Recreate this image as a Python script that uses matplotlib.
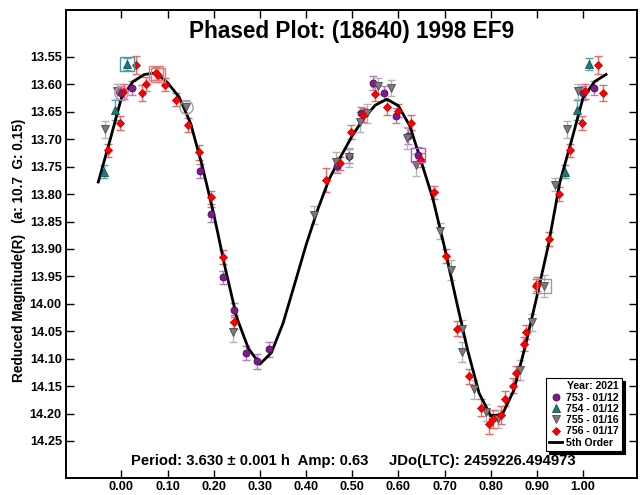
import numpy as np
import matplotlib
matplotlib.use("Agg")
import matplotlib.pyplot as plt
from matplotlib.lines import Line2D

plt.rcParams['font.family'] = ['Liberation Sans', 'DejaVu Sans']
plt.rcParams['font.weight'] = 'bold'

# session 753 - 01/12
purple_phase = [0.023, 0.171, 0.195, 0.220, 0.245, 0.269, 0.294, 0.319, 0.468, 0.493,
                0.520, 0.545, 0.570, 0.596, 0.621, 0.643, 0.999]
purple_mag = [13.607, 13.758, 13.837, 13.952, 14.011, 14.090, 14.105, 14.083, 13.749, 13.730,
              13.653, 13.597, 13.616, 13.657, 13.694, 13.729, 13.616]
purple_err = [0.013, 0.013, 0.013, 0.012, 0.013, 0.013, 0.014, 0.014, 0.013, 0.013,
              0.012, 0.013, 0.013, 0.013, 0.014, 0.014, 0.013]

# session 754 - 01/12
teal_phase = [0.012, 0.962, 0.986]
teal_mag = [13.563, 13.759, 13.647]
teal_err = [0.011, 0.012, 0.018]

# session 755 - 01/16
grey_phase = [0.139, 0.241, 0.417, 0.466, 0.493, 0.518, 0.532, 0.557, 0.584, 0.618,
              0.639, 0.690, 0.713, 0.737, 0.738, 0.764, 0.790, 0.815, 0.863, 0.890,
              0.916, 0.939, 0.965, 0.990]
grey_mag = [13.641, 14.051, 13.838, 13.741, 13.733, 13.668, 13.653, 13.603, 13.607, 13.697,
            13.747, 13.867, 13.938, 14.088, 14.045, 14.156, 14.198, 14.210, 14.121, 14.034,
            13.967, 13.783, 13.682, 13.613]
grey_err = [0.012, 0.018, 0.016, 0.018, 0.017, 0.018, 0.018, 0.015, 0.015, 0.020,
            0.020, 0.015, 0.018, 0.018, 0.015, 0.018, 0.015, 0.017, 0.018, 0.015,
            0.020, 0.012, 0.015, 0.014]

# session 756 - 01/17
red_phase = [0.005, 0.032, 0.044, 0.054, 0.074, 0.080, 0.094, 0.119, 0.144, 0.169,
             0.195, 0.220, 0.245, 0.444, 0.473, 0.497, 0.523, 0.549, 0.576, 0.600,
             0.627, 0.650, 0.678, 0.704, 0.727, 0.753, 0.779, 0.797, 0.806, 0.822,
             0.831, 0.849, 0.855, 0.873, 0.876, 0.898, 0.901, 0.926, 0.948, 0.972, 0.997]
red_mag = [13.613, 13.565, 13.616, 13.599, 13.580, 13.583, 13.601, 13.628, 13.674, 13.724,
           13.806, 13.915, 14.033, 13.774, 13.744, 13.687, 13.656, 13.618, 13.642, 13.648,
           13.670, 13.738, 13.797, 13.913, 14.045, 14.132, 14.189, 14.219, 14.210, 14.203,
           14.173, 14.149, 14.126, 14.073, 14.052, 13.967, 13.964, 13.882, 13.800, 13.720, 13.671]
red_err = [0.013, 0.016, 0.014, 0.013, 0.012, 0.013, 0.012, 0.012, 0.012, 0.013,
           0.012, 0.013, 0.012, 0.022, 0.012, 0.013, 0.012, 0.013, 0.013, 0.012,
           0.014, 0.013, 0.012, 0.013, 0.013, 0.014, 0.015, 0.018, 0.016, 0.016,
           0.014, 0.014, 0.013, 0.013, 0.013, 0.013, 0.012, 0.013, 0.013, 0.012, 0.013]

# 5th order Fourier fit, sampled over one cycle
fit_phase = [0.000, 0.025, 0.050, 0.075, 0.100, 0.125, 0.150, 0.175, 0.200, 0.225,
             0.250, 0.275, 0.300, 0.325, 0.350, 0.375, 0.400, 0.425, 0.450, 0.475,
             0.500, 0.525, 0.550, 0.575, 0.600, 0.625, 0.650, 0.675, 0.700, 0.725,
             0.750, 0.775, 0.800, 0.825, 0.850, 0.875, 0.900, 0.925, 0.950, 0.975]
fit_mag = [13.625, 13.595, 13.582, 13.579, 13.597, 13.623, 13.671, 13.748, 13.836, 13.935,
           14.025, 14.081, 14.110, 14.089, 14.036, 13.965, 13.893, 13.829, 13.773, 13.732,
           13.694, 13.662, 13.638, 13.627, 13.639, 13.676, 13.742, 13.809, 13.897, 13.992,
           14.084, 14.163, 14.204, 14.202, 14.158, 14.077, 13.987, 13.893, 13.778, 13.703]

# first points of each session, circled
ring_phase = [0.012, 0.074, 0.080, 0.139, -0.001, 0.643, 0.916]
ring_mag = [13.563, 13.580, 13.583, 13.641, 13.616, 13.729, 13.967]
ring_marker = ['s', 's', 's', 'o', 'o', 's', 's']
ring_color = ['#3f9e9e', '#e07a7a', '#e07a7a', '#a0a0a0', '#d58ab8', '#a860b8', '#9a9a9a']


def wrap(phase, *cols, lo=0.05, hi=0.95):
    """Repeat points near the ends of the cycle on the other side."""
    phase = np.asarray(phase)
    left = phase >= hi
    right = phase <= lo
    out = [np.concatenate([phase[left] - 1, phase, phase[right] + 1])]
    for c in cols:
        c = np.asarray(c)
        out.append(np.concatenate([c[left], c, c[right]]))
    return out


fig = plt.figure(figsize=(6.4, 4.95), dpi=100)
ax = fig.add_axes([0.1031, 0.0343, 0.8922, 0.9455])

series = [
    ('753 - 01/12', purple_phase, purple_mag, purple_err, 'o', 5.0, '#7d1a8c', '#4e0b5a', '#b27dc0'),
    ('754 - 01/12', teal_phase, teal_mag, teal_err, '^', 6.0, '#1f7a7a', '#0f4f4f', '#52a8a8'),
    ('755 - 01/16', grey_phase, grey_mag, grey_err, 'v', 6.0, '#7a7a7a', '#4a4a4a', '#b4b4b4'),
    ('756 - 01/17', red_phase, red_mag, red_err, 'D', 4.3, '#ff0000', '#c80000', '#e86a6a'),
]

handles = []
for label, ph, mg, er, mk, ms, fc, ec, errc in series:
    p, m, e = wrap(ph, mg, er)
    ax.errorbar(p, m, yerr=e, fmt='none', ecolor=errc, elinewidth=1.0,
                capsize=2.6, capthick=1.0, zorder=2)
    ax.plot(p, m, linestyle='none', marker=mk, markersize=ms,
            markerfacecolor=fc, markeredgecolor=ec, markeredgewidth=0.6, zorder=4)
    handles.append(Line2D([], [], linestyle='none', marker=mk, markersize=ms,
                          markerfacecolor=fc, markeredgecolor=ec, markeredgewidth=0.6,
                          label=label))

for p, m, mk, c in zip(ring_phase, ring_mag, ring_marker, ring_color):
    ax.plot(p, m, marker=mk, markersize=9.5, markerfacecolor='none',
            markeredgecolor=c, markeredgewidth=1.0, zorder=5)

fp, fm = wrap(fit_phase, fit_mag)
ax.plot(fp, fm, color='black', linewidth=2.0, zorder=3, solid_joinstyle='round')
handles.append(Line2D([], [], color='black', linewidth=2.0, label='5th Order'))

ax.set_xlim(-0.12, 1.117)
ax.set_ylim(14.3175, 13.4645)
ax.set_xticks(np.arange(0, 1.001, 0.1))
ax.set_yticks(np.arange(13.55, 14.2501, 0.05))
ax.xaxis.set_major_formatter(plt.FormatStrFormatter('%.2f'))
ax.yaxis.set_major_formatter(plt.FormatStrFormatter('%.2f'))
ax.tick_params(direction='in', length=6, width=1.0, top=True, right=True,
               labelsize=9.2, colors='black')
ax.tick_params(axis='x', pad=2)
ax.tick_params(axis='y', pad=3)
for lab in ax.get_xticklabels() + ax.get_yticklabels():
    lab.set_fontweight('bold')
for sp in ax.spines.values():
    sp.set_linewidth(1.4)

ax.text(0.5, 0.955, 'Phased Plot: (18640) 1998 EF9', transform=ax.transAxes,
        ha='center', va='center', fontsize=16.3, fontweight='bold')
ax.text(0.503, 0.036, 'Period: 3.630 \u00b1 0.001 h  Amp: 0.63     JDo(LTC): 2459226.494973',
        transform=ax.transAxes, ha='center', va='center', fontsize=10.7, fontweight='bold')
fig.text(0.029, 0.495, 'Reduced Magnitude(R)   (a: 10.7  G: 0.15)', rotation=90,
         ha='center', va='center', fontsize=9.8, fontweight='bold')

leg = ax.legend(handles=handles, title='Year: 2021', loc='lower right',
                bbox_to_anchor=(0.974, 0.058), borderaxespad=0, fancybox=False,
                shadow={'color': 'black', 'alpha': 1.0}, framealpha=1.0,
                edgecolor='black', prop={'size': 7.6, 'weight': 'bold'},
                handlelength=1.2, handletextpad=0.4, labelspacing=0.12,
                borderpad=0.3, alignment='right')
leg.get_title().set_fontsize(7.6)
leg.get_title().set_fontweight('bold')
leg.get_frame().set_linewidth(0.8)

fig.savefig('out.png', dpi=100)
